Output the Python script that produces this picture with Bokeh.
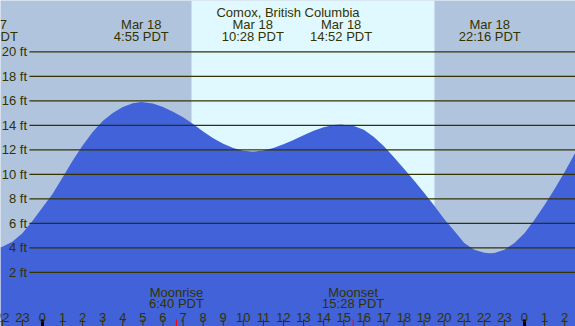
from bokeh.plotting import figure
from bokeh.core.properties import value
from bokeh.embed import file_html
from bokeh.resources import INLINE

# ---- data (hours from Mar 18 00:00 PDT, heights in ft) ----
times = [-2.09, -2.0, -1.5, -1.0, -0.5, 0.0, 0.5, 1.0, 1.5, 2.0, 2.5, 3.0, 3.5, 4.0, 4.5, 4.92,
         5.5, 6.0, 6.5, 7.0, 7.5, 8.0, 8.5, 9.0, 9.5, 10.0, 10.47,
         11.0, 11.5, 12.0, 12.5, 13.0, 13.5, 14.0, 14.5, 14.87,
         15.5, 16.0, 16.5, 17.0, 17.5, 18.0, 18.5, 19.0, 19.5, 20.0, 20.5, 21.0, 21.5, 22.0, 22.27,
         22.5, 23.0, 23.5, 24.0, 24.5, 25.0, 25.5, 26.0, 26.54]
heights = [4.05, 4.08, 4.5, 5.2, 6.2, 7.3, 8.4, 9.75, 11.1, 12.35, 13.45, 14.35, 15.0, 15.5, 15.8, 15.9,
           15.78, 15.5, 15.1, 14.65, 14.1, 13.5, 12.95, 12.5, 12.15, 11.93, 11.86,
           11.94, 12.15, 12.45, 12.8, 13.2, 13.55, 13.85, 14.02, 14.07,
           13.95, 13.65, 13.05, 12.3, 11.4, 10.45, 9.5, 8.5, 7.45, 6.35, 5.4, 4.4, 3.85, 3.6, 3.56,
           3.58, 3.85, 4.4, 5.2, 6.3, 7.5, 8.8, 10.2, 11.8]

tide_times = [-2.77, 4.92, 10.47, 14.87, 22.27]
tide_dates = ["Mar 17", "Mar 18", "Mar 18", "Mar 18", "Mar 18"]
tide_labels = ["21:14 PDT", "4:55 PDT", "10:28 PDT", "14:52 PDT", "22:16 PDT"]

sunrise = 7.42
sunset = 19.52

moon_times = [6.67, 15.47]
moon_names = ["Moonrise", "Moonset"]
moon_labels = ["6:40 PDT", "15:28 PDT"]

grid_ft = [2, 4, 6, 8, 10, 12, 14, 16, 18, 20]
grid_labels = ["2 ft", "4 ft", "6 ft", "8 ft", "10 ft", "12 ft", "14 ft", "16 ft", "18 ft", "20 ft"]

hour_ticks = list(range(-2, 27))
hour_labels = [str(h % 24) for h in hour_ticks]

title = "Comox, British Columbia"

# ---- layout ----
X0, X1 = -2.09, 26.54
Y0, Y1 = -2.42, 24.19

NIGHT = "#b0c4de"
DAY = "#e0f8ff"
WATER = "#4162d8"
INK = "#333300"
FONT = value("Liberation Sans")
FS = value("13px")

p = figure(width=575, height=326, x_range=(X0, X1), y_range=(Y0, Y1),
           x_axis_type=None, y_axis_type=None, toolbar_location=None,
           output_backend="svg", min_border=0)
p.outline_line_color = None
p.background_fill_color = NIGHT
p.border_fill_color = NIGHT
p.xgrid.visible = False
p.ygrid.visible = False

# daylight
p.quad(left=[sunrise], right=[sunset], bottom=[Y0], top=[Y1], fill_color=DAY, line_color=None)

# water
p.varea(x=times, y1=[Y0] * len(times), y2=heights, fill_color=WATER)

# grid lines
p.segment(x0=[-0.65] * len(grid_ft), x1=[X1] * len(grid_ft), y0=grid_ft, y1=grid_ft,
          line_color=INK, line_width=1.2)
p.text(x=[-0.77] * len(grid_ft), y=grid_ft, text=grid_labels, text_font=FONT, text_font_size=FS,
       text_color=INK, text_align="right", text_baseline="middle")

# title
p.text(x=[(X0 + X1) / 2], y=[23.21], text=[title], text_font=FONT, text_font_size=FS,
       text_color=INK, text_align="center", text_baseline="alphabetic")

# tide labels
p.text(x=tide_times, y=[22.23] * len(tide_times), text=tide_dates, text_font=FONT, text_font_size=FS,
       text_color=INK, text_align="center", text_baseline="alphabetic")
p.text(x=tide_times, y=[21.25] * len(tide_times), text=tide_labels, text_font=FONT, text_font_size=FS,
       text_color=INK, text_align="center", text_baseline="alphabetic")

# moon labels
p.text(x=moon_times, y=[0.38] * 2, text=moon_names, text_font=FONT, text_font_size=FS,
       text_color=INK, text_align="center", text_baseline="alphabetic")
p.text(x=moon_times, y=[-0.57] * 2, text=moon_labels, text_font=FONT, text_font_size=FS,
       text_color=INK, text_align="center", text_baseline="alphabetic")

# hour ticks
reg = [h for h in hour_ticks if h % 24 != 0]
mid = [h for h in hour_ticks if h % 24 == 0]
p.segment(x0=reg, x1=reg, y0=[Y0] * len(reg), y1=[-1.85] * len(reg), line_color=INK, line_width=1)
p.segment(x0=mid, x1=mid, y0=[Y0] * len(mid), y1=[-1.85] * len(mid), line_color="black", line_width=3)
p.segment(x0=moon_times, x1=moon_times, y0=[Y0] * 2, y1=[-1.85] * 2, line_color="red", line_width=1)
p.text(x=hour_ticks, y=[-1.67] * len(hour_ticks), text=hour_labels, text_font=FONT, text_font_size=FS,
       text_color=INK, text_align="center", text_baseline="alphabetic")

open("out.html", "w").write(file_html(p, INLINE))
